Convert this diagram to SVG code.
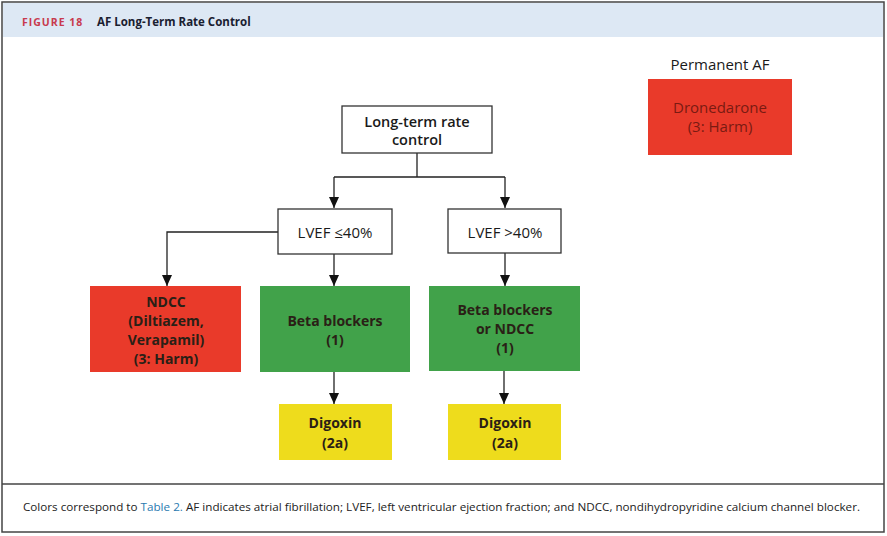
<svg xmlns="http://www.w3.org/2000/svg" width="887" height="536" viewBox="0 0 887 536">
<defs>
<marker id="ah" markerWidth="11" markerHeight="10" refX="11" refY="5" orient="auto" markerUnits="userSpaceOnUse" viewBox="0 0 11 10">
<path d="M0,0 L11,5 L0,10 Z" fill="#111"/>
</marker>
</defs>
<style>
.t{font-family:"Open Sans","Noto Sans",sans-serif;text-anchor:middle;fill:#1a1a1a}
.b{font-weight:700;font-size:14px;fill:#2a2016}
.r{font-size:15px}
.box{stroke:#333;stroke-width:1.3;fill:#fff}
.red{fill:#e93a2a}
.green{fill:#41a24a}
.yel{fill:#eedc1c}
.c{fill:none;stroke:#222;stroke-width:1.3}
</style>
<rect x="0" y="0" width="887" height="536" fill="#fff"/>
<rect x="2" y="2" width="882" height="530" fill="none" stroke="#444" stroke-width="1.5"/>
<rect x="3" y="3" width="880" height="34" fill="#dde8f4"/>
<line x1="2" y1="484" x2="884" y2="484" stroke="#444" stroke-width="1.5"/>
<text x="22" y="26" font-family="Open Sans, sans-serif" font-size="10.5" font-weight="700" fill="#c83a4e" letter-spacing="1">FIGURE 18</text>
<text x="97" y="26" font-family="Open Sans, sans-serif" font-size="11.5" font-weight="700" fill="#1a2030">AF Long-Term Rate Control</text>
<text x="23" y="511" font-family="Open Sans, sans-serif" font-size="11.5" fill="#222" textLength="837" lengthAdjust="spacingAndGlyphs">Colors correspond to <tspan fill="#2a7ab0">Table 2.</tspan> AF indicates atrial fibrillation; LVEF, left ventricular ejection fraction; and NDCC, nondihydropyridine calcium channel blocker.</text>

<g id="connectors">
<path class="c" d="M417,153 V177 M334,177 H505"/>
<path class="c" d="M334,177 V208" marker-end="url(#ah)"/>
<path class="c" d="M505,177 V208" marker-end="url(#ah)"/>
<path class="c" d="M278,232 H167 V286" marker-end="url(#ah)"/>
<path class="c" d="M334,254 V286" marker-end="url(#ah)"/>
<path class="c" d="M505,253 V286" marker-end="url(#ah)"/>
<path class="c" d="M334,372 V404" marker-end="url(#ah)"/>
<path class="c" d="M504,371 V404" marker-end="url(#ah)"/>
</g>

<g id="n-longterm">
<rect class="box" x="342" y="106" width="150" height="47"/>
<text class="t" x="417" y="127" font-size="14.5" font-weight="600">Long-term rate</text>
<text class="t" x="417" y="145" font-size="14.5" font-weight="600">control</text>
</g>
<g id="n-lvef-low">
<rect class="box" x="278" y="209" width="114" height="45"/>
<text class="t r" x="335" y="238">LVEF ≤40%</text>
</g>
<g id="n-lvef-high">
<rect class="box" x="448" y="209" width="113" height="44"/>
<text class="t r" x="505" y="238">LVEF &gt;40%</text>
</g>
<g id="n-ndcc">
<rect class="red" x="90" y="286" width="151" height="86"/>
<text class="t b" x="166" y="307">NDCC</text>
<text class="t b" x="166" y="326">(Diltiazem,</text>
<text class="t b" x="166" y="345">Verapamil)</text>
<text class="t b" x="166" y="364">(3: Harm)</text>
</g>
<g id="n-beta">
<rect class="green" x="260" y="286" width="150" height="86"/>
<text class="t b" x="335" y="326">Beta blockers</text>
<text class="t b" x="335" y="345">(1)</text>
</g>
<g id="n-beta-ndcc">
<rect class="green" x="429" y="286" width="151" height="85"/>
<text class="t b" x="505" y="315">Beta blockers</text>
<text class="t b" x="505" y="334">or NDCC</text>
<text class="t b" x="505" y="353">(1)</text>
</g>
<g id="n-dig1">
<rect class="yel" x="279" y="404" width="113" height="56"/>
<text class="t b" x="335" y="428">Digoxin</text>
<text class="t b" x="335" y="448">(2a)</text>
</g>
<g id="n-dig2">
<rect class="yel" x="448" y="404" width="113" height="56"/>
<text class="t b" x="505" y="428">Digoxin</text>
<text class="t b" x="505" y="448">(2a)</text>
</g>
<g id="n-permanent">
<text class="t r" x="720" y="70">Permanent AF</text>
<rect class="red" x="648" y="79" width="144" height="76"/>
<text class="t r" x="720" y="113" style="fill:#7a1a12">Dronedarone</text>
<text class="t r" x="720" y="132" style="fill:#7a1a12">(3: Harm)</text>
</g>
</svg>
